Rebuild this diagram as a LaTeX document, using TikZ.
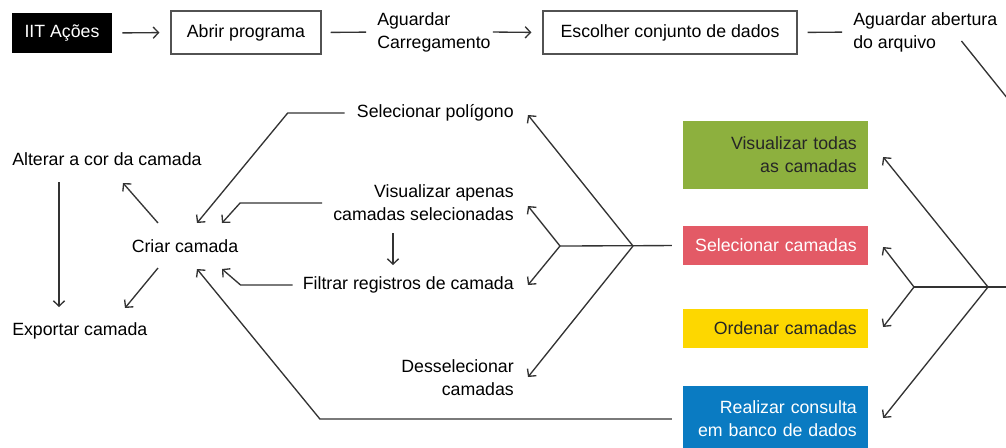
\documentclass[tikz,border=0pt]{standalone}
\usepackage{fontspec}
\setmainfont{Liberation Sans}
\usetikzlibrary{arrows.meta, calc, positioning}
\definecolor{traco}{HTML}{333333}
\definecolor{verde}{HTML}{8DB03E}
\definecolor{vermelho}{HTML}{E35A66}
\definecolor{amarelo}{HTML}{FDD700}
\definecolor{azul}{HTML}{0A7BC2}
\tikzset{
    texto/.style={inner sep=0pt, font=\fontsize{13.3}{17.25}\selectfont},
    caixa/.style={texto, draw=traco!85, line width=0.9pt, minimum height=32.25pt},
    colorida/.style={texto, text width=122pt, inner xsep=8.25pt, align=right, minimum height=29.25pt},
    linha/.style={draw=traco, line width=1pt},
    seta/.style={linha, -{Straight Barb[length=4pt,width=8.5pt]}},
}

\begin{document}
\begin{tikzpicture}[x=0.75pt, y=-0.75pt]
\useasboundingbox (0,0) rectangle (1006,447);
\clip (0,0) rectangle (1006,447);

\node[texto, fill=black, text=white, minimum width=75pt, minimum height=30pt] (iit) at (62,33) {IIT Ações};
\node[caixa, minimum width=112.5pt] (abrir) at (246,32.5) {Abrir programa};
\node[texto, align=left, anchor=west] (carreg) at (377,32) {Aguardar\\Carregamento};
\node[caixa, minimum width=190.5pt] (escolher) at (670,32.5) {Escolher conjunto de dados};
\node[texto, align=left, anchor=west] (abertura) at (853,32) {Aguardar abertura\\do arquivo};

\draw[seta, shorten <=7.5pt, shorten >=8.25pt] (iit.east) -- (abrir.west);
\draw[linha, shorten <=6.75pt, shorten >=8.25pt] (abrir.east) -- (carreg.west);
\draw[seta, shorten <=1.5pt, shorten >=8.25pt] (carreg.east) -- (escolher.west);
\draw[linha, shorten <=7.5pt, shorten >=8.25pt] (escolher.east) -- (abertura.west);
\coordinate (saida) at (1012,104);
\draw[linha] ($(abertura.east)+(-36,9)$) -- (saida);

\node[colorida, fill=verde, text=black!85, minimum height=51pt] (todas) at (775.5,155) {Visualizar todas\\as camadas};
\node[colorida, fill=vermelho, text=white] (selcam) at (775.5,245.5) {Selecionar camadas};
\node[colorida, fill=amarelo, text=black!85] (ordenar) at (775.5,328.5) {Ordenar camadas};
\node[colorida, fill=azul, text=white, minimum height=49.5pt] (consulta) at (775.5,419) {Realizar consulta\\em banco de dados};

\coordinate (borda) at (1010,287);
\coordinate (garfo1) at (988,287);
\coordinate (garfo2) at (914,287);
\draw[linha] (borda) -- (garfo2);
\draw[seta] (garfo1) -- ($(todas.east)+(15,2)$);
\draw[seta] (garfo1) -- ($(consulta.east)+(15,-1)$);
\draw[seta] (garfo2) -- ($(selcam.east)+(15,1.5)$);
\draw[seta] (garfo2) -- ($(ordenar.east)+(15,-1.5)$);

\node[texto, anchor=east] (polig) at (514,113) {Selecionar polígono};
\node[texto, align=right, anchor=east] (visap) at (514,203) {Visualizar apenas\\camadas selecionadas};
\node[texto, anchor=east] (filtrar) at (514,285) {Filtrar registros de camada};
\node[texto, align=right, anchor=east] (dessel) at (514,378) {Desselecionar\\camadas};

\coordinate (garfo3) at (633,246);
\coordinate (garfo4) at (560,246);
\draw[linha, shorten <=8.25pt] (selcam.west) -- (garfo4);
\draw[seta] (garfo3) -- ($(polig.east)+(14,2)$);
\draw[seta] (garfo3) -- ($(dessel.east)+(14,-1)$);
\draw[seta] (garfo4) -- ($(visap.east)+(14,3)$);
\draw[seta] (garfo4) -- ($(filtrar.east)+(14,0)$);
\draw[seta] ($(visap.east)+(-121,30)$) -- ($(filtrar.east)+(-121,-20)$);

\node[texto] (criar) at (185,246) {Criar camada};
\node[texto, anchor=west] (alterar) at (12,159) {Alterar a cor da camada};
\node[texto, anchor=west] (exportar) at (12,331) {Exportar camada};

\draw[seta] ([xshift=-9pt]polig.west) -- ++(-57,0) -- ($(criar)+(12,-23)$);
\draw[seta] ([xshift=-8.25pt]visap.west) -- ++(-82,0) -- ($(criar)+(37,-23)$);
\draw[seta] ([xshift=-7.5pt]filtrar.west) -- ++(-52,0) -- ($(criar)+(37,23)$);
\draw[seta] ([xshift=-8.25pt]consulta.west) -- ++(-352,0) -- ($(criar)+(12,23)$);

\draw[seta] ($(criar)+(-27,-23)$) -- ($(alterar.west)+(111,24)$);
\draw[seta] ($(criar)+(-27,22)$) -- ($(exportar.west)+(113,-23)$);
\draw[seta] ($(alterar.west)+(47,23)$) -- ($(exportar.west)+(47,-24)$);
\end{tikzpicture}
\end{document}
